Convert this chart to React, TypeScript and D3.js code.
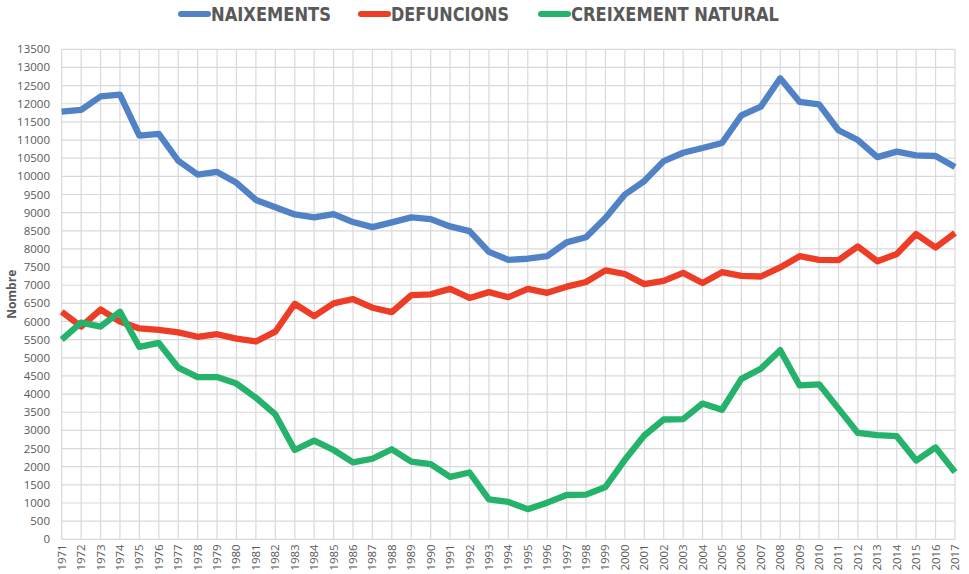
import * as d3 from "d3";

// dades llegides del gràfic
const years = d3.range(1971, 2018);

const naixements = [
  11780, 11830, 12200, 12250, 11120, 11170, 10430, 10050, 10120, 9820,
  9350, 9150, 8950, 8870, 8960, 8740, 8600, 8730, 8870, 8820,
  8620, 8490, 7920, 7700, 7730, 7800, 8180, 8320, 8850, 9500,
  9870, 10420, 10650, 10780, 10920, 11680, 11920, 12700, 12050, 11980,
  11270, 11000, 10530, 10680, 10580, 10560, 10260,
];

const defuncions = [
  6270, 5860, 6330, 6000, 5810, 5770, 5700, 5580, 5650, 5530,
  5450, 5720, 6490, 6150, 6500, 6620, 6380, 6260, 6730, 6750,
  6900, 6650, 6810, 6670, 6900, 6790, 6960, 7090, 7410, 7310,
  7030, 7120, 7340, 7060, 7360, 7260, 7240, 7490, 7800, 7700,
  7690, 8070, 7660, 7860, 8410, 8040, 8440,
];

const creixement = [
  5500, 5970, 5860, 6270, 5300, 5410, 4730, 4470, 4470, 4290,
  3900, 3440, 2460, 2720, 2460, 2120, 2220, 2480, 2140, 2070,
  1720, 1840, 1100, 1030, 830, 1010, 1220, 1230, 1440, 2190,
  2860, 3300, 3310, 3740, 3570, 4420, 4700, 5210, 4240, 4270,
  3600, 2930, 2870, 2840, 2170, 2530, 1850,
];

const yTicks = d3.range(0, 13501, 500);

const seriesNames = ["NAIXEMENTS", "DEFUNCIONS", "CREIXEMENT NATURAL"];
const seriesColors = ["#5182c6", "#ee3d26", "#25b26b"];
const seriesValues = [naixements, defuncions, creixement];

export default function App() {
  const width = 969;
  const height = 574;
  const left = 61.7;
  const right = 955;
  const top = 49.3;
  const bottom = 539.3;

  const x = d3.scalePoint<number>().domain(years).range([left, right]);
  const y = d3.scaleLinear().domain([0, 13500]).range([bottom, top]);

  const line = d3
    .line<number>()
    .x((_, i) => x(years[i]) as number)
    .y((d) => y(d));

  const font = "'Open Sans', 'DejaVu Sans', sans-serif";
  const grey = "#595959";

  // posicions de la llegenda
  const legendX = [178, 358, 538];
  const legendW = [120, 118, 208];

  return (
    <svg
      width={width}
      height={height}
      style={{ position: "absolute", left: 0, top: 0, background: "#fff" }}
    >
      {/* graella */}
      <g stroke="#d9d9d9" strokeWidth={1.2}>
        {yTicks.map((t) => (
          <line key={"h" + t} x1={left} x2={right} y1={y(t)} y2={y(t)} />
        ))}
        {years.map((yr) => (
          <line key={"v" + yr} x1={x(yr)} x2={x(yr)} y1={top} y2={bottom} />
        ))}
      </g>

      {/* eix y */}
      <g fontFamily={font} fontSize={11.5} fill={grey} textAnchor="end">
        {yTicks.map((t) => (
          <text key={t} x={50} y={y(t)} dy="0.35em">
            {t}
          </text>
        ))}
      </g>
      <text
        transform={`translate(16,${(top + bottom) / 2}) rotate(-90)`}
        textAnchor="middle"
        fontFamily={font}
        fontSize={12}
        fontWeight="bold"
        fill={grey}
      >
        Nombre
      </text>

      {/* eix x */}
      <g fontFamily={font} fontSize={11.5} fill={grey} textAnchor="end">
        {years.map((yr) => (
          <text
            key={yr}
            transform={`translate(${(x(yr) as number) + 4},${bottom + 5}) rotate(-90)`}
          >
            {yr}
          </text>
        ))}
      </g>

      {/* línies */}
      {seriesValues.map((vals, i) => (
        <path
          key={seriesNames[i]}
          d={line(vals) ?? ""}
          fill="none"
          stroke={seriesColors[i]}
          strokeWidth={6.3}
          strokeLinejoin="round"
        />
      ))}

      {/* llegenda */}
      {seriesNames.map((name, i) => (
        <g key={name}>
          <line
            x1={legendX[i] + 3}
            x2={legendX[i] + 30}
            y1={14}
            y2={14}
            stroke={seriesColors[i]}
            strokeWidth={6}
            strokeLinecap="round"
          />
          <text
            x={legendX[i] + 33}
            y={21}
            fontFamily="'Liberation Sans Narrow', 'DejaVu Sans Condensed', sans-serif"
            fontSize={19}
            fontWeight="bold"
            fill={grey}
            textLength={legendW[i]}
            lengthAdjust="spacingAndGlyphs"
          >
            {name}
          </text>
        </g>
      ))}
    </svg>
  );
}
